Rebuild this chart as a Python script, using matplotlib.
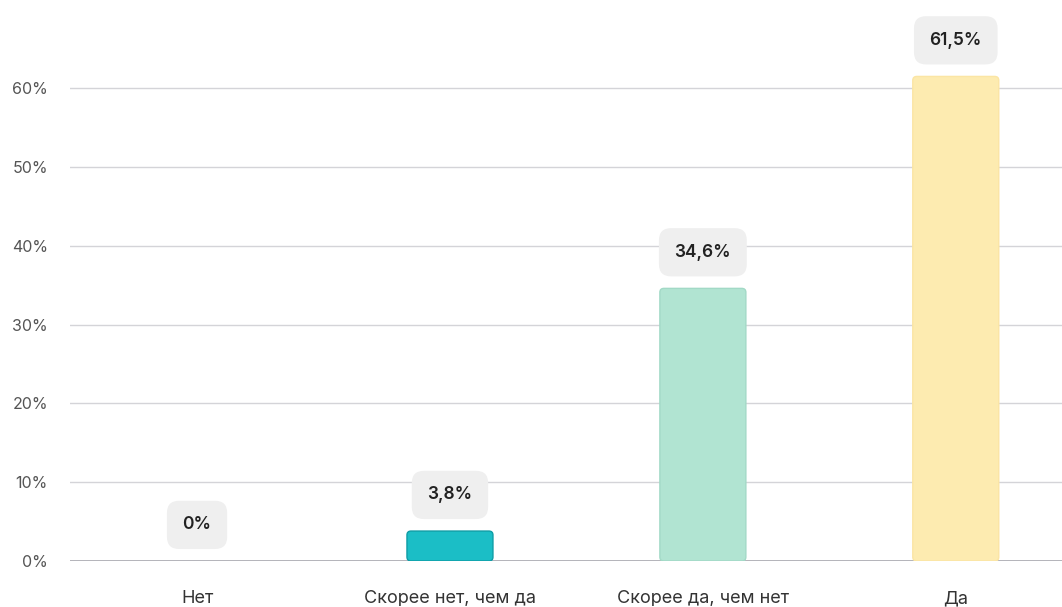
import matplotlib.pyplot as plt
from matplotlib.patches import FancyBboxPatch

categories = ["Нет", "Скорее нет, чем да", "Скорее да, чем нет", "Да"]
values = [0.0, 3.8, 34.6, 61.5]
labels = ["0%", "3,8%", "34,6%", "61,5%"]
colors = ["#1BBEC6", "#1BBEC6", "#B1E4D2", "#FDEBB0"]
edges = ["#0E9DA6", "#0E9DA6", "#A2D9C6", "#FBE5A4"]
yticks = [0, 10, 20, 30, 40, 50, 60]

plt.rcParams['font.family'] = ['Inter', 'DejaVu Sans']

fig = plt.figure(figsize=(10.62, 6.07), dpi=100)
ax = fig.add_axes([0.066, 0.0758, 0.934, 0.9242])
ax.set_xlim(-0.502, 3.42)
ax.set_ylim(0, 71.2)

width = 0.34
rs = 0.016
for i, v in enumerate(values):
    if v > 0:
        p = FancyBboxPatch((i - width / 2, 0), width, v,
                           boxstyle=f"round,pad=0,rounding_size={rs}",
                           mutation_aspect=0.5 / rs,
                           facecolor=colors[i], edgecolor=edges[i],
                           linewidth=1, zorder=3)
        ax.add_patch(p)
    ax.annotate(labels[i], (i, v), xytext=(0, 26), textcoords="offset points",
                ha="center", va="center", fontsize=12.5, fontweight="semibold",
                color="#222222", zorder=4,
                bbox=dict(boxstyle="round,pad=0.9,rounding_size=0.7",
                          facecolor="#EFEFEF", edgecolor="none"))

ax.set_yticks(yticks)
ax.set_yticklabels([f"{t}%" for t in yticks], fontsize=11.5, color="#555555")
ax.set_xticks(range(len(categories)))
ax.set_xticklabels(categories, fontsize=13, color="#333333")
ax.tick_params(axis="y", length=0, pad=16)
ax.tick_params(axis="x", length=0, pad=21)
ax.grid(axis="y", color="#D4D4D8", linewidth=1, zorder=0)
ax.axhline(0, color="#A8A8B0", linewidth=1.2, zorder=2)
for s in ax.spines.values():
    s.set_visible(False)

fig.savefig("out.png", dpi=100)
